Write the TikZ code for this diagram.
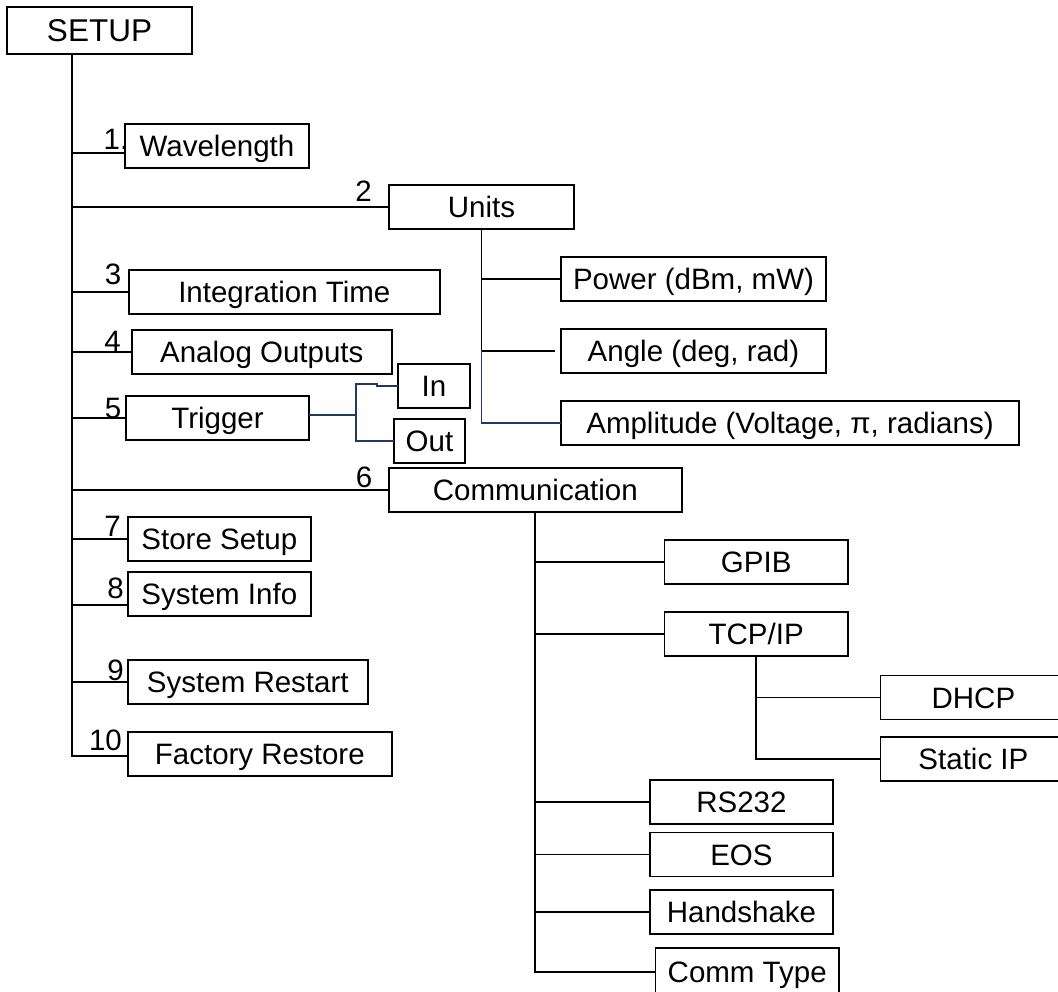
\documentclass[tikz,border=0pt]{standalone}
\usepackage{fontspec}
\setmainfont{Liberation Sans}
\usepackage{tikz}
\definecolor{linenavy}{RGB}{31,56,100}

\begin{document}
\begin{tikzpicture}[x=1pt,y=-1pt,
  menubox/.style={draw,line width=1.8pt,inner sep=0pt,minimum height=44pt,
    text height=27pt,text depth=5.9pt,font=\fontsize{29.5}{31}\selectfont},
  numlabel/.style={anchor=base,inner sep=0pt,font=\fontsize{29.5}{31}\selectfont},
  branch/.style={line width=1.8pt,line cap=rect}]
\useasboundingbox (0,0) rectangle (1058,992);
\clip (0,0) rectangle (1058,992);
% Number labels on the main branches
\node[numlabel] (n1) at (116,150) {1.};
\node[numlabel] (n2) at (363.5,202) {2};
\node[numlabel] (n3) at (113,285) {3};
\node[numlabel] (n4) at (112.5,352) {4};
\node[numlabel] (n5) at (113,418) {5};
\node[numlabel] (n6) at (364,487) {6};
\node[numlabel] (n7) at (112.7,536) {7};
\node[numlabel] (n8) at (115.5,598) {8};
\node[numlabel] (n9) at (115.5,680) {9};
\node[numlabel] (n10) at (105.5,750) {10};
% Top level menu
\node[menubox,minimum width=185pt,minimum height=47pt,text height=29pt,text depth=6.3pt,
  font=\fontsize{31.5}{33}\selectfont] (setup) at (99.5,30.5) {SETUP};
\node[menubox,minimum width=184pt] (wave) at (217,146) {Wavelength};
\node[menubox,minimum width=185pt] (units) at (481.5,207) {Units};
\node[menubox,minimum width=311pt] (integ) at (284.3,292.3) {Integration Time};
\node[menubox,minimum width=260pt] (analog) at (261.8,352.3) {Analog Outputs};
\node[menubox,minimum width=183.6pt] (trigger) at (217.5,418.3) {Trigger};
\node[menubox,minimum width=292.6pt] (comm) at (535.3,489.7) {Communication};
\node[menubox,minimum width=183.3pt] (store) at (219.3,539.3) {Store Setup};
\node[menubox,minimum width=183.3pt] (sysinfo) at (219.3,594) {System Info};
\node[menubox,minimum width=240.3pt] (restart) at (247.8,682.2) {System Restart};
\node[menubox,minimum width=264.3pt] (factory) at (259.8,754.3) {Factory Restore};
% Units submenu
\node[menubox,minimum width=265pt] (power) at (693.5,278.7) {Power (dBm, mW)};
\node[menubox,minimum width=265pt] (angle) at (693.5,350.8) {Angle (deg, rad)};
\node[menubox,minimum width=458pt] (ampl) at (790,422.8) {Amplitude (Voltage, π, radians)};
% Trigger submenu
\node[menubox,minimum width=71.7pt] (in) at (434,386) {In};
\node[menubox,minimum width=71pt] (out) at (429.5,440.8) {Out};
% Communication submenu
\node[menubox,minimum width=183.6pt] (gpib) at (756.2,562.2) {GPIB};
\node[menubox,minimum width=183.6pt] (tcpip) at (756.2,634.2) {TCP/IP};
\node[menubox,minimum width=186pt] (dhcp) at (973.4,697.5) {DHCP};
\node[menubox,minimum width=186pt] (static) at (973.4,758.8) {Static IP};
\node[menubox,minimum width=183.2pt] (rs232) at (741.4,801.8) {RS232};
\node[menubox,minimum width=183.2pt] (eos) at (741.4,854.5) {EOS};
\node[menubox,minimum width=183pt] (hand) at (741.5,912.2) {Handshake};
\node[menubox,minimum width=183.3pt,minimum height=47pt] (commtype) at (747.2,971.8) {Comm Type};
% Main trunk
\coordinate (trunkend) at (72,756);
\coordinate (wavein) at ([yshift=-7pt]wave.west);
\coordinate (infoin) at ([yshift=-11pt]sysinfo.west);
\draw[branch] (setup.south -| trunkend) -- (trunkend) -- (trunkend -| factory.west);
\draw[branch] (trunkend |- wavein) -- (wavein);
\draw[branch] (trunkend |- units.west) -- (units.west);
\draw[branch] (trunkend |- integ.west) -- (integ.west);
\draw[branch] (trunkend |- analog.west) -- (analog.west);
\draw[branch] (trunkend |- trigger.west) -- (trigger.west);
\draw[branch] (trunkend |- comm.west) -- (comm.west);
\draw[branch] (trunkend |- store.west) -- (store.west);
\draw[branch] (trunkend |- infoin) -- (infoin);
\draw[branch] (trunkend |- restart.west) -- (restart.west);
% Units branches
\draw[branch] (units.south) -- (units.south |- angle.west);
\draw[branch] (units.south |- power.west) -- (power.west);
\draw[branch,shorten >=6pt] (units.south |- angle.west) -- (angle.west);
\draw[branch,linenavy] (units.south |- angle.west) -- (units.south |- ampl.west) -- (ampl.west);
% Trigger branches
\coordinate (trigfork) at (355.7,415);
\coordinate (trigstep) at (376.7,384.3);
\draw[branch,linenavy] ([yshift=3.3pt]trigger.east) -- (trigfork);
\draw[branch,linenavy] (out.west) -| (trigstep -| trigfork) -- (trigstep) |- (in.west);
% Communication branches
\draw[branch] (comm.south) -- (comm.south |- commtype.west) -- (commtype.west);
\draw[branch] (comm.south |- gpib.west) -- (gpib.west);
\draw[branch] (comm.south |- tcpip.west) -- (tcpip.west);
\draw[branch] (comm.south |- rs232.west) -- (rs232.west);
\draw[branch] (comm.south |- eos.west) -- (eos.west);
\draw[branch] (comm.south |- hand.west) -- (hand.west);
\draw[branch] (tcpip.south) -- (tcpip.south |- static.west) -- (static.west);
\draw[branch] (tcpip.south |- dhcp.west) -- (dhcp.west);
\end{tikzpicture}
\end{document}
